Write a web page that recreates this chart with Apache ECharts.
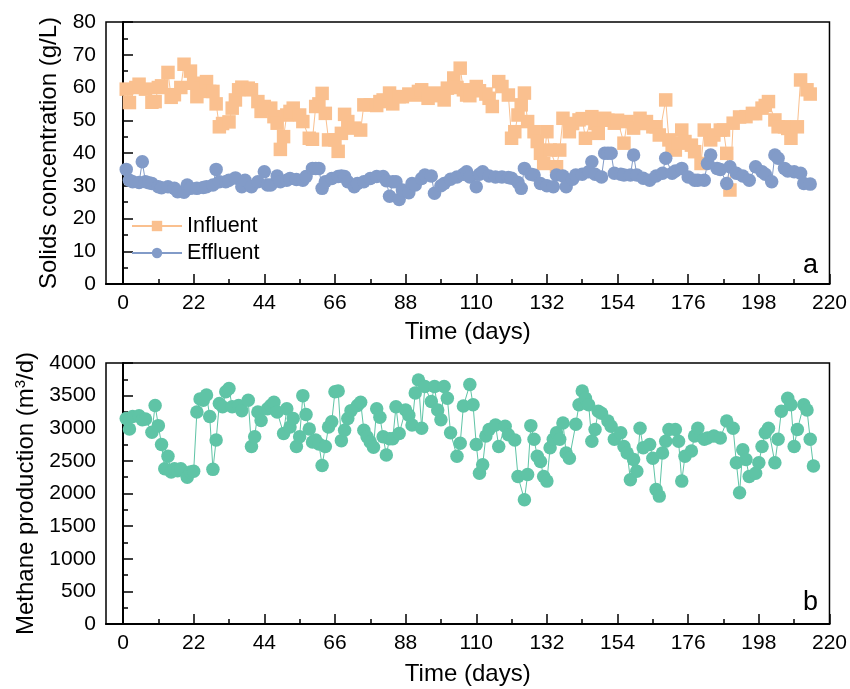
<!DOCTYPE html>
<html>
<head>
<meta charset="utf-8">
<script src="https://cdn.jsdelivr.net/npm/echarts@6/dist/echarts.min.js"></script>
<style>
html,body{margin:0;padding:0;background:#fff;}
#chart{width:850px;height:689px;}
</style>
</head>
<body>
<div id="chart"></div>
<script>
// ---- Data ----
var influentDays = [1,2,4,5,7,9,10,11,12,14,15,16,18,19,21,22,23,24,26,27,28,29,30,31,33,34,35,36,37,39,40,42,43,44,46,47,48,49,50,51,52,53,55,56,58,59,60,61,62,63,64,66,67,68,69,70,72,74,75,77,79,80,81,83,84,86,87,89,91,92,93,95,97,98,100,101,103,104,105,106,107,108,110,111,113,114,115,117,118,120,121,122,123,124,125,126,128,129,130,131,132,133,135,136,137,139,140,142,143,144,146,147,148,150,151,153,154,156,157,159,161,162,163,165,166,167,169,170,171,172,173,174,175,177,178,180,181,183,184,186,187,188,189,190,192,194,196,197,199,200,201,203,204,206,207,208,210,211,213,214];
var influentValues = [59.5,55.4,60,61,59.5,55.5,55.7,60,60.5,64.6,57,57.8,60,67.1,65,61.3,57.2,59.8,61.8,58.8,58.8,55,48,49,49.5,53.7,56.2,59.3,60.1,59.8,59.3,55.7,52.7,54.2,53.7,51.1,49.1,41.1,45,51.6,52.7,53.7,51.6,49.6,44.5,44.2,54.2,55,58.2,52.1,44,44,40.5,46,51.8,49.6,47.6,47,54.7,54.7,54.5,55.7,56.2,58.3,55,57.2,57.2,58,57.7,58.8,59.3,56.7,58.3,57.5,56.2,59.8,62.9,60,65.9,59.3,57.7,57.5,60.3,59,58,56.7,54.2,61.8,60.3,57.7,44.5,46.5,51.6,54.7,58.3,49.6,46.5,43.5,39.9,36.8,46.5,40.9,35.8,40.9,50.6,46.5,49,50.1,50.5,44.5,51.1,49,46,50.6,50,49.1,50,43,49.6,47.6,50.6,49,49.6,48,48,45.5,56.2,44,42,40.9,43,47,43.5,42.4,40.4,36.8,47,44,45.5,47,47,39.9,28.7,49.1,51,51.1,52.1,52,53.7,54.5,55.7,50.1,48,48,47.5,44.5,48,62.3,59.3,58];

var effluentDays = [1,2,3,5,6,7,8,9,11,12,14,16,17,19,20,21,23,25,26,28,29,30,32,33,35,37,38,40,42,44,45,46,48,49,51,52,54,56,57,59,60,61,62,63,65,67,68,69,70,72,73,75,77,79,81,82,83,84,85,86,87,89,90,91,93,94,96,97,99,100,102,104,106,107,108,110,111,112,114,116,118,120,121,123,124,125,127,128,130,132,134,135,137,138,140,141,143,145,146,147,149,150,151,152,153,155,156,158,159,160,162,164,166,168,169,171,172,174,176,178,179,181,182,183,185,186,188,189,191,193,195,197,199,200,202,203,204,206,207,209,211,212,214];
var effluentValues = [35,31.7,31.2,31,37.3,31.2,30.9,30.7,29.7,29.4,29.7,29.2,28.2,28,30.2,29.2,29.2,29.5,29.7,30.2,35,31.2,31.2,31.7,32.4,29.7,31.7,29.7,31.2,34.3,30.2,30.2,33,31.2,31.7,32.2,31.9,31.7,32.8,35.3,35.3,35.3,29.2,31.2,32.2,32.8,33,32.8,31.2,29.7,30.7,31.2,32.2,32.8,32.8,31.5,26.8,31.2,31.2,25.8,28.7,27.9,30.7,30.2,32.2,33.3,33,27.7,30,30.7,32,32.7,33.5,34.3,32.7,29.7,33.5,34.3,33,32.7,32.7,32.5,32.3,31,29.2,35.3,33.5,33.3,30.7,30,29.7,33.3,33,29.7,32,33.3,33.5,34.3,37.3,33.5,32.7,39.9,39.9,39.9,33.8,33.5,33.3,33.3,39.4,33.3,32.3,31.7,33,33.8,38.4,33.8,34.5,35.3,32.7,31.7,31.7,31.7,36.8,39.4,35.3,35,30.7,35.8,33.8,33,31.7,35.8,34.3,33.5,31.2,39.4,38.4,35.3,34.5,34.3,33.8,30.7,30.5];

var methaneDays = [1,2,3,5,6,7,9,10,11,12,13,14,15,16,17,18,20,21,22,23,24,25,26,27,28,29,30,31,32,33,34,36,37,39,40,41,42,43,45,46,47,48,50,51,52,53,54,55,56,57,58,59,60,61,62,63,64,65,66,67,68,69,70,71,73,74,75,76,77,78,79,80,81,82,83,84,85,86,88,89,90,91,92,93,94,96,97,98,99,100,101,102,104,105,106,108,109,110,111,112,113,114,116,117,119,120,122,123,125,126,127,128,129,130,131,132,133,134,135,136,137,138,139,141,142,143,144,145,146,147,148,149,151,152,153,155,156,157,158,159,160,161,162,164,165,166,167,168,169,170,172,173,174,175,177,178,179,181,182,184,186,188,190,191,192,193,194,195,197,198,199,200,201,203,204,205,207,208,209,210,212,213,214,215];
var methaneValues = [3150,2990,3180,3190,3130,3140,2940,3350,3040,2750,2380,2570,2330,2380,2350,2380,2250,2330,2340,3250,3450,3430,3510,3180,2370,2820,3380,3330,3560,3610,3330,3350,3270,3430,2720,2870,3250,3120,3300,3350,3400,3250,2920,3300,3020,3150,2720,2870,3500,3210,2990,2790,2820,2760,2430,2720,3020,3100,3560,3570,2810,2970,3150,3270,3350,3400,2970,2870,2790,2710,3300,3170,2870,2590,2840,2840,3330,2920,3280,3200,3050,3540,3740,3000,3640,3410,3640,3280,3130,3640,3460,2930,2570,2770,3340,3670,3360,2750,2310,2440,2880,2980,3050,2720,3030,2900,2820,2260,1905,2290,3040,2830,2570,2490,2260,2190,2700,2830,2930,2830,3080,2620,2540,3060,3360,3570,3460,3360,2800,2980,3260,3230,3110,3030,2830,2930,2720,2620,2210,2520,2340,3000,2700,2750,2540,2060,1960,2620,2800,2980,2980,2800,2190,2570,2650,2880,3000,2830,2850,2880,2850,3110,3000,2470,2010,2670,2520,2260,2310,2470,2720,2930,3000,2470,2830,3260,3460,3360,2720,2980,3360,3280,2830,2420];

var xTicks = [0,22,44,66,88,110,132,154,176,198,220];
var xMinorTicks = [11,33,55,77,99,121,143,165,187,209];

function pairs(d, v){ var r=[]; for(var i=0;i<d.length;i++) r.push([d[i], v[i]]); return r; }

var FONT = 'Arial, "Liberation Sans", sans-serif';
var XMIN = -5.3, XMAX = 220;
var TICKFS = 21, TITLEFS = 24;

function majorX(gi, gap){
  return {
    type:'value', gridIndex:gi, min:XMIN, max:XMAX,
    axisLine:{show:true, onZero:false, lineStyle:{color:'#000', width:2}},
    axisTick:{show:true, inside:true, length:10, customValues:xTicks, lineStyle:{color:'#000', width:1.5}},
    axisLabel:{show:true, customValues:xTicks, color:'#000', fontSize:TICKFS, fontFamily:FONT, margin:9},
    splitLine:{show:false},
    name:'Time (days)', nameLocation:'middle', nameGap:gap,
    nameTextStyle:{color:'#000', fontSize:TITLEFS, fontFamily:FONT}
  };
}
function minorX(gi){
  return {
    type:'value', gridIndex:gi, min:XMIN, max:XMAX, position:'bottom',
    axisLine:{show:false, onZero:false},
    axisTick:{show:true, inside:true, length:5, customValues:xMinorTicks, lineStyle:{color:'#000', width:1.5}},
    axisLabel:{show:false},
    splitLine:{show:false}
  };
}
function plain(v){ return String(v); }

var chart = echarts.init(document.getElementById('chart'), null, {renderer:'canvas'});
chart.setOption({
  animation:false,
  backgroundColor:'#fff',
  grid:[
    {left:106, top:22, width:724, height:262, show:true, borderColor:'#000', borderWidth:1.5, backgroundColor:'transparent'},
    {left:106, top:363, width:724, height:261, show:true, borderColor:'#000', borderWidth:1.5, backgroundColor:'transparent'}
  ],
  xAxis:[ majorX(0, 36), minorX(0), majorX(1, 38), minorX(1) ],
  yAxis:[
    {type:'value', gridIndex:0, min:0, max:80, interval:10,
     axisLine:{show:true, lineStyle:{color:'#000', width:2}},
     axisTick:{show:true, inside:true, length:10, lineStyle:{color:'#000', width:1.5}},
     minorTick:{show:true, splitNumber:2, length:5, lineStyle:{color:'#000', width:1.5}},
     axisLabel:{color:'#000', fontSize:TICKFS, fontFamily:FONT, margin:10, formatter:plain},
     splitLine:{show:false},
     name:'Solids concentration (g/L)', nameLocation:'middle', nameGap:38,
     nameTextStyle:{color:'#000', fontSize:TITLEFS, fontFamily:FONT}
    },
    {type:'value', gridIndex:1, min:0, max:4000, interval:500,
     axisLine:{show:true, lineStyle:{color:'#000', width:2}},
     axisTick:{show:true, inside:true, length:10, lineStyle:{color:'#000', width:1.5}},
     minorTick:{show:true, splitNumber:2, length:5, lineStyle:{color:'#000', width:1.5}},
     axisLabel:{color:'#000', fontSize:TICKFS, fontFamily:FONT, margin:10, formatter:plain},
     splitLine:{show:false},
     name:'Methane production (m{sup|3}/d)', nameLocation:'middle', nameGap:62,
     nameTextStyle:{color:'#000', fontSize:TITLEFS, fontFamily:FONT,
       rich:{sup:{fontSize:15, fontFamily:FONT, color:'#000', padding:[0,0,11,0]}}}
    }
  ],
  legend:{
    orient:'vertical', left:126, top:210, itemWidth:50, itemHeight:13, itemGap:5,
    textStyle:{color:'#000', fontSize:21.5, fontFamily:FONT},
    data:['Influent','Effluent']
  },
  graphic:[
    {type:'text', left:803, top:252, style:{text:'a', fontSize:27, fontFamily:FONT, fill:'#000'}},
    {type:'text', left:803, top:589, style:{text:'b', fontSize:27, fontFamily:FONT, fill:'#000'}}
  ],
  series:[
    {name:'Influent', type:'line', xAxisIndex:0, yAxisIndex:0, data:pairs(influentDays, influentValues),
     symbol:'rect', symbolSize:13.5, showAllSymbol:true,
     itemStyle:{color:'#FAC08F'}, lineStyle:{color:'#FAC08F', width:1}},
    {name:'Effluent', type:'line', xAxisIndex:0, yAxisIndex:0, data:pairs(effluentDays, effluentValues),
     symbol:'circle', symbolSize:13.5, showAllSymbol:true,
     itemStyle:{color:'#829BC8'}, lineStyle:{color:'#829BC8', width:1}},
    {name:'Methane', type:'line', xAxisIndex:2, yAxisIndex:1, data:pairs(methaneDays, methaneValues),
     symbol:'circle', symbolSize:13.5, showAllSymbol:true,
     itemStyle:{color:'#5FC4A6'}, lineStyle:{color:'#5FC4A6', width:1}}
  ]
});
</script>
</body>
</html>
